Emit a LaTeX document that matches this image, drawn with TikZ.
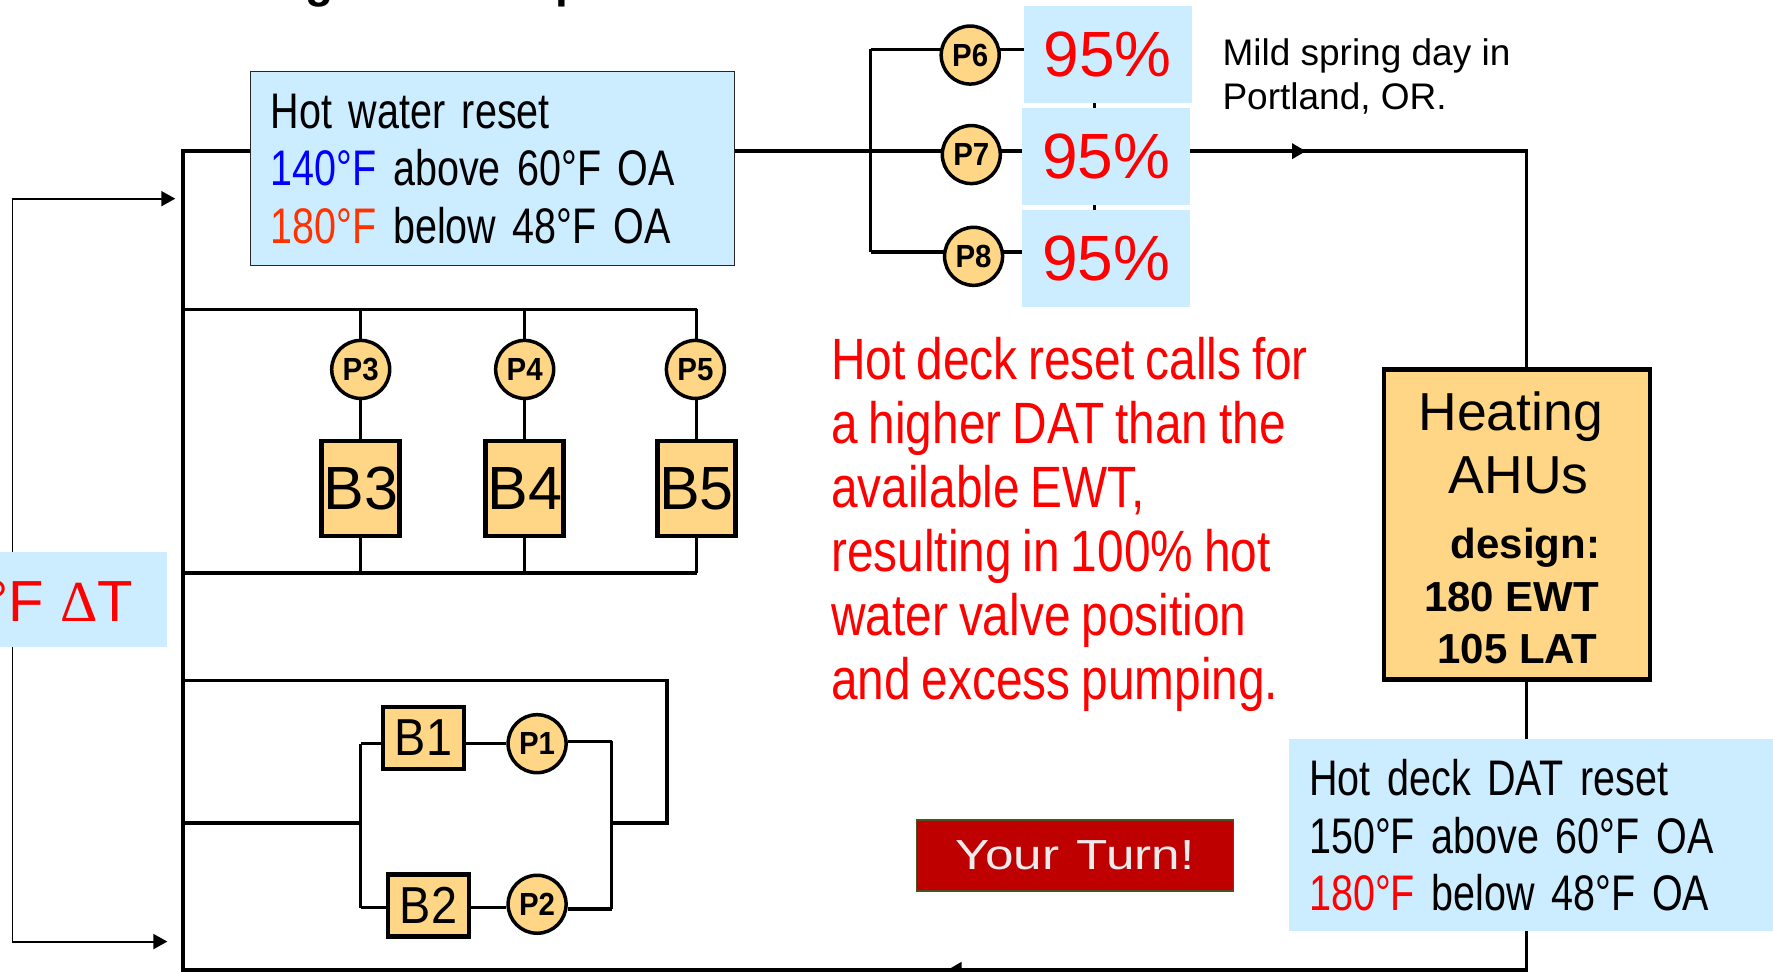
\documentclass[tikz,border=0pt]{standalone}
\usepackage{fontspec}
\usetikzlibrary{arrows.meta,backgrounds}
\setmainfont{Liberation Sans}
\newfontfamily\narrowf[FakeStretch=0.82,WordSpace=0.82]{Liberation Sans}
\newfontfamily\resetf[FakeStretch=0.79,WordSpace=0.7]{Liberation Sans}
\newfontfamily\pumpf[FakeStretch=0.92]{Liberation Sans}
\newfontfamily\boilerf[FakeStretch=0.9]{Liberation Sans}
\newfontfamily\widef[FakeStretch=1.22,WordSpace=1.22]{Liberation Sans}
\newfontfamily\serf{Liberation Serif}
\definecolor{paleblue}{HTML}{CCECFF}
\definecolor{boxorange}{HTML}{FFD685}
\definecolor{turnred}{HTML}{BF0000}
\definecolor{turnedge}{HTML}{4F4F1F}
\definecolor{hotred}{HTML}{FF3300}
\newcommand{\fs}[2]{\fontsize{#1}{#2}\selectfont}
\newcommand{\dn}[1]{\raisebox{-2pt}{#1}}
\tikzset{
  pipe/.style={line width=3.5pt,line join=miter},
  thinline/.style={line width=1.5pt},
  arrowline/.style={line width=2pt,-{Triangle[length=14pt,width=15pt]}},
  flowarrow/.style={line width=3.5pt,-{Triangle[length=14pt,width=15pt]}},
  pump/.style={circle,draw=black,fill=boxorange,line width=3.5pt,minimum size=58pt,inner sep=0pt,font=\pumpf\bfseries\fs{32}{32}},
  boiler/.style={rectangle,draw=black,fill=boxorange,line width=4.5pt,inner sep=0pt,font=\fs{61}{61}},
  pct/.style={rectangle,fill=paleblue,inner sep=0pt,minimum width=168pt,minimum height=97pt,text=red,font=\fs{64}{64}},
  resetbox/.style={rectangle,fill=paleblue,inner sep=0pt,align=left,font=\resetf\fs{50}{57.5}},
}
\begin{document}
\begin{tikzpicture}[x=1.13074pt,y=-1.13074pt]
\useasboundingbox (0,-0.7) rectangle (1568,858.3);

% cropped title fragments
\node[anchor=base,inner sep=0pt,font=\bfseries\fs{46}{46}] (titleg) at (283,-3) {g};
\node[anchor=base,inner sep=0pt,font=\bfseries\fs{46}{46}] (titlep) at (504,-3) {p};

% reset boxes
\node[resetbox,draw=black!85,line width=1.5pt,minimum width=484pt,minimum height=194pt,text width=444pt,anchor=north west] (hwbox) at (221,62)
 {Hot water reset\\\textcolor{blue}{140°F} above 60°F OA\\\textcolor{hotred}{180°F} below 48°F OA};
\node[resetbox,minimum width=484pt,minimum height=192pt,text width=444pt,anchor=north west] (deckbox) at (1140,653)
 {Hot deck DAT reset\\150°F above 60°F OA\\\textcolor{red}{180°F} below 48°F OA};
\node[anchor=north west,fill=paleblue,inner sep=0pt,minimum width=189pt,minimum height=95pt] (dtbox) at (-20,487) {};
\node[anchor=base east,inner sep=0pt,text=red,font=\fs{58}{58}] (dttext) at (118,549) {°F {\serf Δ}T};

% percentages
\node[pct,anchor=north west] (v6) at (905,4) {\dn{95\%}};
\node[pct,anchor=north west] (v7) at (904,95) {95\%};
\node[pct,anchor=north west] (v8) at (904,185) {95\%};

% pumps
\node[pump] (p6) at (858,48) {P6};
\node[pump] (p7) at (859,136) {P7};
\node[pump] (p8) at (861,226) {P8};
\node[pump] (p3) at (319,326) {P3};
\node[pump] (p4) at (464,326) {P4};
\node[pump] (p5) at (615,326) {P5};
\node[pump] (p1) at (475,657) {P1};
\node[pump] (p2) at (475,799) {P2};

% boilers
\node[boiler,minimum width=78pt,minimum height=95pt] (b3) at (319,431.5) {\dn{B3}};
\node[boiler,minimum width=78pt,minimum height=95pt] (b4) at (464,431.5) {\dn{B4}};
\node[boiler,minimum width=78pt,minimum height=95pt] (b5) at (616,431.5) {\dn{B5}};
\node[boiler,minimum width=81pt,minimum height=62pt,font=\boilerf\fs{52}{52}] (b1) at (374.5,652) {B1};
\node[boiler,minimum width=81pt,minimum height=62pt,font=\boilerf\fs{52}{52}] (b2) at (379,800) {B2};

% AHU
\node[rectangle,draw=black,fill=boxorange,line width=4.5pt,minimum width=266pt,minimum height=310pt,anchor=north west,inner sep=0pt] (ahu) at (1222,324) {};
\node[inner sep=0pt,font=\fs{53.5}{53.5},anchor=base] (ahu1) at (1336,380) {Heating};
\node[inner sep=0pt,font=\fs{53.5}{53.5},anchor=base] (ahu2) at (1343,436) {AHUs};
\node[inner sep=0pt,font=\bfseries\fs{42}{42},anchor=base] (ahu3) at (1349,493) {design:};
\node[inner sep=0pt,font=\bfseries\fs{42}{42},anchor=base] (ahu4) at (1337,540) {180 EWT};
\node[inner sep=0pt,font=\bfseries\fs{42}{42},anchor=base] (ahu5) at (1342,586) {105 LAT};

% notes
\node[anchor=north west,inner sep=0pt,align=left,font=\fs{37}{44.5}] (mild) at (1081,33) {Mild spring day in\\Portland, OR.};
\node[anchor=base west,inner sep=0pt,align=left,text=red,font=\narrowf\fs{58.3}{64}] (note) at (735,618)
 {Hot deck reset calls for\\a higher DAT than the\\available EWT,\\resulting in 100\% hot\\water valve position\\and excess pumping.};
\node[anchor=north west,rectangle,draw=turnedge,fill=turnred,line width=1.5pt,minimum width=317pt,minimum height=71pt,inner sep=0pt,text=white!92!black,font=\widef\fs{42}{42}] (turn) at (810,724) {Your Turn!};

% named points of the loop
\coordinate (tl) at (162,133);
\coordinate (bl) at (162,857);
\coordinate (br) at (1350,857);
\coordinate (tr) at (1350,133);
\coordinate (flow) at (1155,133);
\coordinate (ret) at (838,857);
\coordinate (h6) at (770,43);
\coordinate (h8) at (770,222);
\coordinate (tiex) at (968,43);
\coordinate (tiey) at (968,222);
\coordinate (bus1l) at (162,273);
\coordinate (bus1r) at (616,273);
\coordinate (bus2l) at (162,506);
\coordinate (bus2r) at (616,506);
\coordinate (pl) at (162,727);
\coordinate (pj) at (319,727);
\coordinate (pjt) at (319,657);
\coordinate (pjb) at (319,802);
\coordinate (qjt) at (541,655);
\coordinate (qj) at (541,727);
\coordinate (qjb) at (541,803);
\coordinate (sr) at (590,727);
\coordinate (srt) at (590,601);
\coordinate (sl) at (162,601);
\coordinate (a1s) at (11,175);
\coordinate (a1e) at (155,175);
\coordinate (a2s) at (11,832);
\coordinate (a2e) at (148,832);

\begin{scope}[on background layer]
  \draw[pipe] (tl) -- (bl) -- (br) -- (tr) -- cycle;
  \draw[flowarrow] (v7.east |- flow) -- (flow);
  \draw[flowarrow] (br) -- (ret);
  \draw[pipe] (h6) -- (h8);
  \draw[pipe] (h6) -- (tiex);
  \draw[pipe] (h8) -- (tiey);
  \draw[pipe] (tiex) -- (tiey);
  \draw[pipe] (bus1l) -- (bus1r);
  \draw[pipe] (bus2l) -- (bus2r);
  \draw[pipe] (p3.center |- bus1l) -- (p3.center |- bus2l);
  \draw[pipe] (p4.center |- bus1l) -- (p4.center |- bus2l);
  \draw[pipe] (bus1r) -- (bus2r);
  \draw[pipe] (sl) -- (srt) -- (sr) -- (qj);
  \draw[pipe] (pl) -- (pj);
  \draw[pipe] (pjt) -- (pjb);
  \draw[pipe] (qjt) -- (qjb);
  \draw[pipe] (pjt) -- (b1.west |- pjt);
  \draw[pipe] (b1.east |- pjt) -- (p1.west |- pjt);
  \draw[pipe] (p1.east |- qjt) -- (qjt);
  \draw[pipe] (pjb) -- (b2.west |- pjb);
  \draw[pipe] (b2.east |- pjb) -- (p2.west |- pjb);
  \draw[pipe] (p2.east |- qjb) -- (qjb);
  \draw[thinline] (a1s) -- (a2s);
  \draw[arrowline] (a1s) -- (a1e);
  \draw[arrowline] (a2s) -- (a2e);
\end{scope}
\end{tikzpicture}
\end{document}
